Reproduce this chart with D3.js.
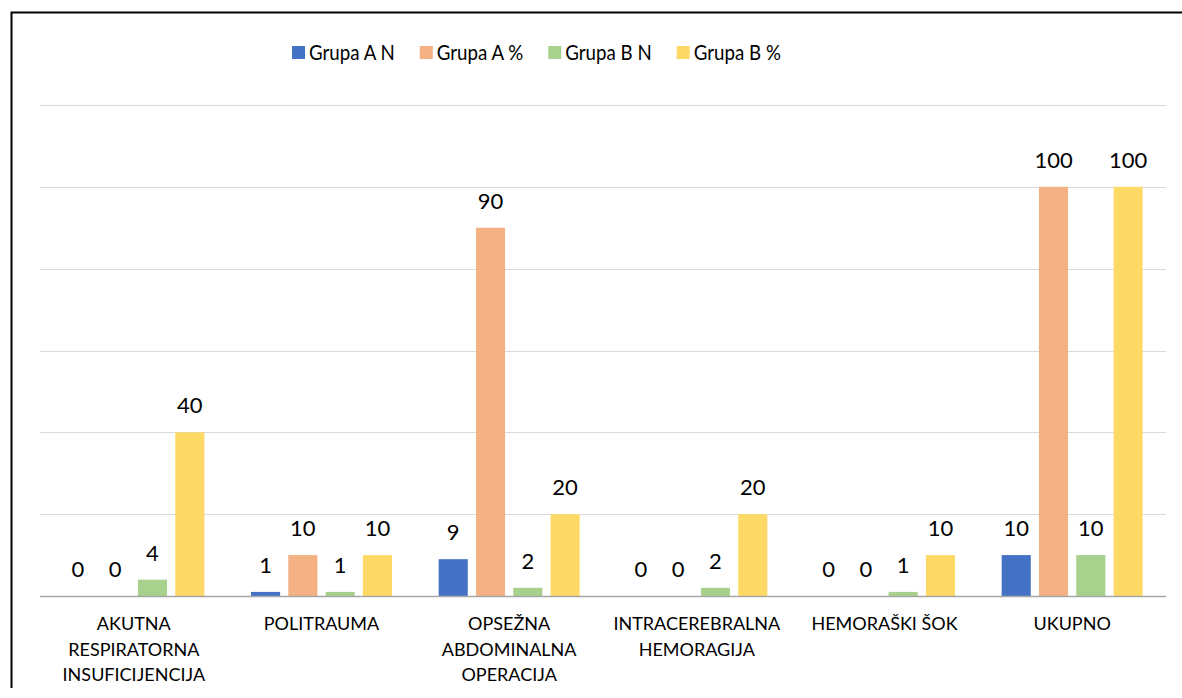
<!DOCTYPE html>
<html><head><meta charset="utf-8">
<script src="https://cdn.jsdelivr.net/npm/d3@7"></script>
<style>body{margin:0;background:#fff}svg{display:block}</style>
</head><body>
<svg id="c" width="1182" height="698"></svg>
<script>
const categories = [["AKUTNA","RESPIRATORNA","INSUFICIJENCIJA"],["POLITRAUMA"],["OPSEŽNA","ABDOMINALNA","OPERACIJA"],["INTRACEREBRALNA","HEMORAGIJA"],["HEMORAŠKI ŠOK"],["UKUPNO"]];
const seriesNames = ["Grupa A N","Grupa A %","Grupa B N","Grupa B %"];
const grupaAN = [0,1,9,0,0,10];
const grupaAPct = [0,10,90,0,0,100];
const grupaBN = [4,1,2,2,1,10];
const grupaBPct = [40,10,20,20,10,100];
const yTicks = [0,20,40,60,80,100,120];
const colors = ["#4472C4","#F4B183","#A9D18E","#FFD966"];
const series = [grupaAN, grupaAPct, grupaBN, grupaBPct];

const font = "Lato, 'Open Sans', sans-serif";
const svg = d3.select("#c");
svg.append("path").attr("d","M11.5,688 L11.5,12.5 L1182,12.5").attr("fill","none").attr("stroke","#000").attr("stroke-width",2);

const pL=40, pR=1166, pT=105, pB=596;
const y = d3.scaleLinear().domain([0,120]).range([pB, pT]);
const x0 = d3.scaleBand().domain(d3.range(categories.length)).range([pL,pR]).padding(0);
const groupW = 141;
const m = (x0.bandwidth()-groupW)/2;
const x1 = d3.scaleBand().domain(d3.range(series.length)).range([m, m+groupW]).paddingInner(0.22).paddingOuter(0);

svg.append("g").selectAll("line").data(yTicks.filter(d=>d>0)).join("line")
  .attr("x1",pL).attr("x2",pR).attr("y1",d=>Math.round(y(d))+0.5).attr("y2",d=>Math.round(y(d))+0.5)
  .attr("stroke","#d9d9d9").attr("stroke-width",1);

const g = svg.append("g");
categories.forEach((c,i)=>{
  series.forEach((s,j)=>{
    const v = s[i];
    const bx = x0(i)+x1(j);
    if(v>0){
      g.append("rect").attr("x",bx).attr("width",x1.bandwidth())
        .attr("y",y(v)).attr("height",y(0)-y(v)).attr("fill",colors[j]);
    }
    g.append("text").attr("x",bx+x1.bandwidth()/2).attr("y",y(v)-19)
      .attr("text-anchor","middle").attr("font-family",font).attr("font-size",22)
      .attr("fill","#000").text(v);
  });
});

svg.append("line").attr("x1",pL).attr("x2",pR).attr("y1",pB+0.5).attr("y2",pB+0.5)
  .attr("stroke","#a6a6a6").attr("stroke-width",1.5);

const xl = svg.append("g");
categories.forEach((c,i)=>{
  const t = xl.append("text").attr("text-anchor","middle").attr("font-family",font).attr("font-size",18).attr("fill","#000");
  c.forEach((line,k)=>{
    t.append("tspan").attr("x",x0(i)+x0.bandwidth()/2).attr("y",630+k*25.5).text(line);
  });
});

const lg = svg.append("g");
let lx = 292;
seriesNames.forEach((n,j)=>{
  lg.append("rect").attr("x",lx).attr("y",46).attr("width",13).attr("height",13).attr("fill",colors[j]);
  const t = lg.append("text").attr("x",lx+17).attr("y",60).attr("font-family",font).attr("font-size",22).attr("fill","#000").text(n);
  const w = t.node().getComputedTextLength()*0.85;
  t.attr("textLength",w).attr("lengthAdjust","spacingAndGlyphs");
  lx += 17 + w + 25;
});
</script>
</body></html>
